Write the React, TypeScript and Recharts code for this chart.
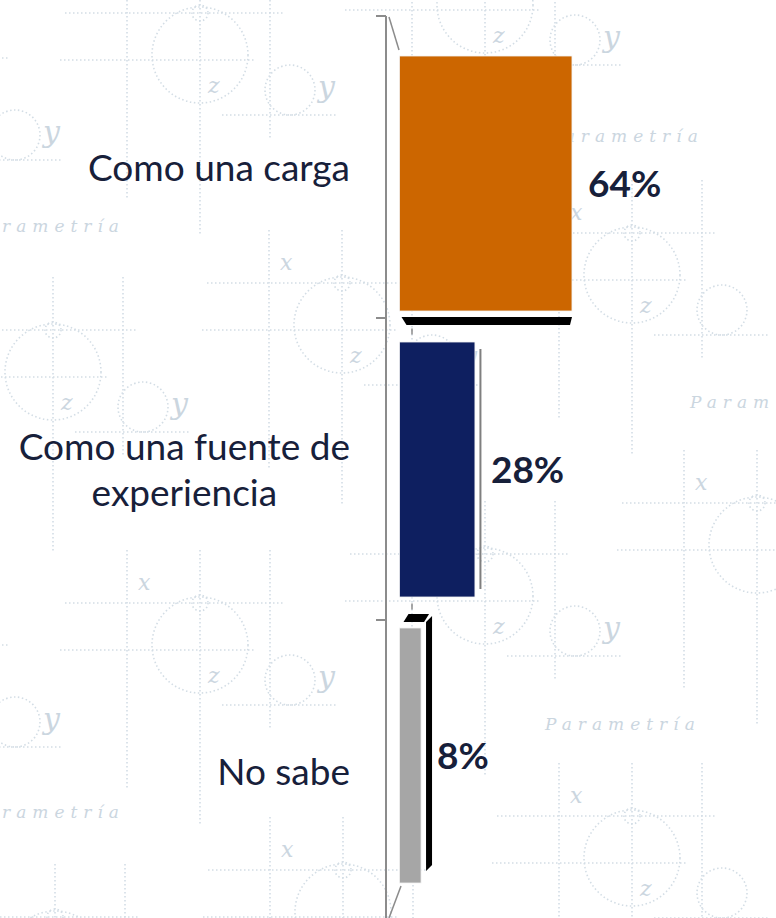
import React from 'react';
import { BarChart, Bar, XAxis, YAxis, Cell, LabelList } from 'recharts';

// Survey answers, share of respondents (%)
const categories = ['Como una carga', 'Como una fuente de experiencia', 'No sabe'];
const shares = [64, 28, 8];
const barColors = ['#cc6600', '#0e1f60', '#a6a6a6'];

const CHART_W = 776;
const CHART_H = 918;
const MARGIN = { top: 40, right: 107, bottom: 20, left: 0 };
const Y_WIDTH = 386;
const AX = MARGIN.left + Y_WIDTH; // x of the category axis line
const BAND = (CHART_H - MARGIN.top - MARGIN.bottom) / categories.length;
const MID = MARGIN.top + (CHART_H - MARGIN.top - MARGIN.bottom) / 2;
const PERSP = 1.056; // the axis wall sits a bit further out than the bars

const TEXT = '#17203a';
const FONT = 'Lato, "Open Sans", sans-serif';

const data = categories.map((name, i) => ({ name, value: shares[i] }));

// faint "Parametría" watermark of the slide background
const wmMotifs = [
  [200, 55], [485, 5], [53, 372], [342, 325], [632, 275], [757, 545], [200, 645],
  [485, 596], [632, 858], [343, 912], [55, 959], [-75, 100], [-75, 687],
];
const wmWords: [number, number, string][] = [
  [2, 232, 'rametría'],
  [548, 142, 'Parametría'],
  [690, 408, 'Param'],
  [545, 730, 'Parametría'],
  [2, 818, 'rametría'],
];
const WM = '#d3dde5';
const WM_TEXT = '#cbd6df';

const inside = (x: number, y: number, size: number) =>
  x >= 0 && x + size <= CHART_W && y - size >= 0 && y <= CHART_H;

const Watermark = () => (
  <svg width={CHART_W} height={CHART_H} style={{ position: 'absolute', left: 0, top: 0 }}>
    <g fill="none" stroke={WM} strokeWidth={1.6} strokeDasharray="1.5 2.5">
      {wmMotifs.map(([cx, cy], i) => (
        <g key={i}>
          <circle cx={cx} cy={cy} r={48} />
          <circle cx={cx} cy={cy - 42} r={8} />
          <line x1={cx - 135} y1={cy - 42} x2={cx + 85} y2={cy - 42} />
          <line x1={cx - 140} y1={cy + 5} x2={cx + 55} y2={cy + 5} />
          <line x1={cx} y1={cy - 95} x2={cx} y2={cy + 180} />
          <line x1={cx - 73} y1={cy - 95} x2={cx - 73} y2={cy + 145} />
          <line x1={cx + 70} y1={cy - 95} x2={cx + 70} y2={cy + 85} />
          <circle cx={cx + 90} cy={cy + 35} r={25} />
          <line x1={cx + 22} y1={cy + 60} x2={cx + 137} y2={cy + 60} />
        </g>
      ))}
    </g>
    <g fill={WM_TEXT} fontFamily="'DejaVu Serif', serif" fontStyle="italic">
      {wmMotifs.map(([cx, cy], i) => (
        <g key={i}>
          {inside(cx - 62, cy - 55, 22) && (
            <text x={cx - 62} y={cy - 55} fontSize={22}>x</text>
          )}
          {inside(cx + 8, cy + 38, 22) && (
            <text x={cx + 8} y={cy + 38} fontSize={22}>z</text>
          )}
          {inside(cx + 118, cy + 42, 28) && (
            <text x={cx + 118} y={cy + 42} fontSize={30}>y</text>
          )}
        </g>
      ))}
      {wmWords.map(([x, y, w], i) => (
        <text key={i} x={x} y={y} fontSize={17} letterSpacing={6}>
          {w}
        </text>
      ))}
    </g>
  </svg>
);

// split long labels into lines of at most 18 characters
const wrap = (s: string, max = 18) => {
  const out: string[] = [];
  let cur = '';
  s.split(' ').forEach((w) => {
    const next = cur ? cur + ' ' + w : w;
    if (next.length > max && cur) {
      out.push(cur);
      cur = w;
    } else cur = next;
  });
  if (cur) out.push(cur);
  return out;
};

const toWall = (y: number) => MID + (y - MID) * PERSP;

const CategoryTick = (props: any) => {
  const { y, payload } = props;
  const idx = props.index ?? categories.indexOf(payload.value);
  const last = categories.length - 1;
  const ly = toWall(y);
  const innerTop = y - BAND / 2;
  const innerBottom = y + BAND / 2;
  const wallBottom = toWall(innerBottom);
  const lines = wrap(String(payload.value));

  return (
    <g>
      {idx === 0 && (
        <g stroke="#8c8c8c" strokeWidth={2} fill="none">
          <line x1={AX} y1={toWall(innerTop)} x2={AX} y2={CHART_H + 10} />
          <line x1={AX - 10} y1={toWall(innerTop)} x2={AX} y2={toWall(innerTop)} />
          <line x1={AX + 3} y1={toWall(innerTop) + 1} x2={AX + 13} y2={innerTop + 10} strokeWidth={1.5} />
        </g>
      )}
      {idx === last && (
        <line x1={AX + 15} y1={innerBottom - 12} x2={AX + 3} y2={CHART_H} stroke="#8c8c8c" strokeWidth={1.5} />
      )}
      {idx !== last && (
        <g stroke="#8c8c8c" strokeWidth={2}>
          <line x1={AX - 10} y1={wallBottom} x2={AX} y2={wallBottom} />
          <line
            x1={AX + 26}
            y1={innerBottom + (innerBottom - wallBottom) * 0.7 - 3}
            x2={AX + 26}
            y2={innerBottom + (innerBottom - wallBottom) * 0.7 + 3}
            strokeWidth={1.5}
          />
        </g>
      )}
      <foreignObject x={AX - 36 - 420} y={ly - 70} width={420} height={140}>
        <div
          style={{
            height: '100%',
            display: 'flex',
            alignItems: 'center',
            justifyContent: 'flex-end',
            fontFamily: FONT,
            fontSize: 37,
            color: TEXT,
          }}
        >
          <div style={{ textAlign: 'center', lineHeight: '46px', whiteSpace: 'nowrap' }}>
            {lines.map((l, i) => (
              <div key={i}>{l}</div>
            ))}
          </div>
        </div>
      </foreignObject>
    </g>
  );
};

// bar with the odd 3D faces of the original chart
const Bar3D = (props: any) => {
  const { x, y, width: w, height: h, fill, payload } = props;
  const idx = props.index ?? categories.indexOf(payload?.name);
  return (
    <g>
      <rect x={x} y={y} width={w} height={h} fill={fill} stroke="#f2f2f2" strokeWidth={0.8} />
      {idx === 0 && (
        <polygon
          points={`${x + 2},${y + h + 6} ${x + w},${y + h + 6} ${x + w - 2},${y + h + 14} ${x + 7},${y + h + 14}`}
          fill="#000"
        />
      )}
      {idx === 1 && (
        <line x1={x + w + 5.5} y1={y + 7} x2={x + w + 5.5} y2={y + h - 8} stroke="#7f7f7f" strokeWidth={2} />
      )}
      {idx === 2 && (
        <g fill="#000">
          <polygon points={`${x + 4},${y - 6} ${x + 9},${y - 14} ${x + w + 8},${y - 14} ${x + w + 3},${y - 6}`} />
          <polygon
            points={`${x + w + 5},${y - 6} ${x + w + 11},${y - 12} ${x + w + 11},${y + h - 18} ${x + w + 5},${y + h - 12}`}
          />
        </g>
      )}
    </g>
  );
};

export default function App() {
  return (
    <div style={{ position: 'absolute', left: 0, top: 0, width: CHART_W, height: CHART_H, background: '#fff', overflow: 'hidden' }}>
      <Watermark />
      <div style={{ position: 'absolute', left: 0, top: 0 }}>
        <BarChart width={CHART_W} height={CHART_H} data={data} layout="vertical" margin={MARGIN} barSize={255}>
          <XAxis type="number" domain={[-5, 100]} hide />
          <YAxis
            type="category"
            dataKey="name"
            width={Y_WIDTH}
            axisLine={false}
            tickLine={false}
            tickSize={0}
            tickMargin={0}
            interval={0}
            tick={<CategoryTick />}
          />
          <Bar dataKey="value" isAnimationActive={false} shape={<Bar3D />}>
            {data.map((d, i) => (
              <Cell key={d.name} fill={barColors[i]} />
            ))}
            <LabelList
              dataKey="value"
              position="right"
              offset={16}
              formatter={(v: any) => `${v}%`}
              fill={TEXT}
              fontFamily={FONT}
              fontWeight={700}
              fontSize={37}
            />
          </Bar>
        </BarChart>
      </div>
    </div>
  );
}
